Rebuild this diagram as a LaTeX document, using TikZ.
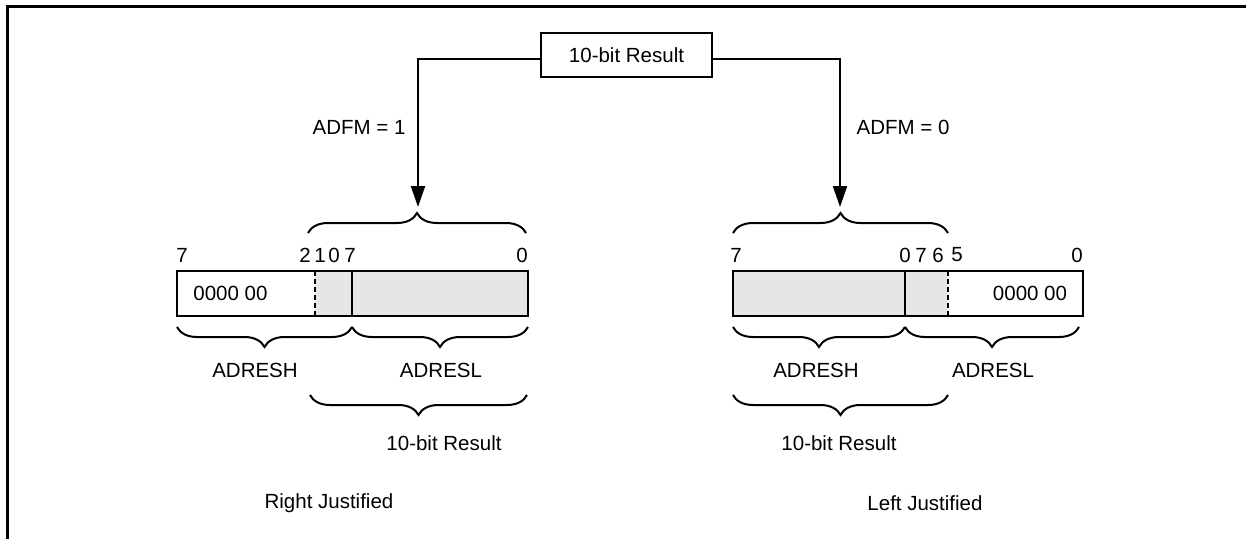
\documentclass[tikz,border=0pt]{standalone}
\usepackage{fontspec}
\setmainfont{Liberation Sans}
\usetikzlibrary{arrows.meta,decorations.pathreplacing}
\definecolor{regfill}{HTML}{E6E6E6}
\begin{document}
\begin{tikzpicture}[x=1pt,y=-1pt,
  every node/.style={font=\fontsize{20.5}{24}\selectfont, inner sep=0pt},
  lbl/.style={anchor=center},
  frame/.style={line width=3pt},
  box/.style={draw, line width=2pt},
  arr/.style={line width=2pt, -{Triangle[length=21pt,width=14pt]}},
  brup/.style={line width=2pt, decorate, decoration={brace, amplitude=20pt}},
  divs/.style={line width=2pt},
  divd/.style={line width=2pt, dash pattern=on 5pt off 3pt}]
\useasboundingbox (0,0) rectangle (1246,539);
% frame
\draw[frame] (7,539) -- (7,6) -- (1246,6);

% top result box
\node[box, minimum width=171pt, minimum height=44pt] (res) at (626.5,55) {10-bit Result};
\coordinate (resL) at (541,59);
\coordinate (resR) at (712,59);
\coordinate (cL) at (418,59);
\coordinate (cR) at (840,59);
\coordinate (tipL) at (418,207);
\coordinate (tipR) at (840,207);
\draw[arr] (resL) -- (cL) -- (tipL);
\draw[arr] (resR) -- (cR) -- (tipR);
\node[lbl] (adfm1) at (359,127) {ADFM = 1};
\node[lbl] (adfm0) at (903,127) {ADFM = 0};

% ===== left (right justified) =====
\coordinate (tlA) at (308,233);
\coordinate (tlB) at (526,233);
\draw[brup] (tlA) -- (tlB);
\node[lbl] (l7) at (182,255) {7};
\node[lbl] (l2) at (305,255) {2};
\node[lbl] (l1) at (320,255) {1};
\node[lbl] (l0) at (334,255) {0};
\node[lbl] (l7b) at (350,255) {7};
\node[lbl] (l0b) at (522,255) {0};
\fill[regfill] (315,271) rectangle (528,316);
\node[box, minimum width=351pt, minimum height=45pt] (regL) at (352.5,293.5) {};
\draw[divd] (315,271) -- (315,316);
\draw[divs] (352,271) -- (352,316);
\node[lbl] (zl) at (230.5,293) {0000 00};
\coordinate (blA) at (177,327);
\coordinate (blM) at (352,327);
\coordinate (blB) at (528,327);
\draw[brup] (blM) -- (blA);
\draw[brup] (blB) -- (blM);
\node[lbl] (adreshL) at (255,370) {ADRESH};
\node[lbl] (adreslL) at (441,370) {ADRESL};
\coordinate (llA) at (310,395);
\coordinate (llB) at (527,395);
\draw[brup] (llB) -- (llA);
\node[lbl] (resL2) at (444,443) {10-bit Result};
\node[lbl] (rj) at (329,503) {Right Justified};

% ===== right (left justified) =====
\coordinate (trA) at (733,233);
\coordinate (trB) at (948,233);
\draw[brup] (trA) -- (trB);
\node[lbl] (r7) at (736,255) {7};
\node[lbl] (r0) at (905,255) {0};
\node[lbl] (r7b) at (921,255) {7};
\node[lbl] (r6) at (938,255) {6};
\node[lbl] (r5) at (957,255) {5};
\node[lbl] (r0b) at (1077,255) {0};
\fill[regfill] (733,271) rectangle (948,316);
\node[box, minimum width=350pt, minimum height=45pt] (regR) at (908,293.5) {};
\draw[divs] (905,271) -- (905,316);
\draw[divd] (948,271) -- (948,316);
\node[lbl] (zr) at (1030,293) {0000 00};
\coordinate (brA) at (733,327);
\coordinate (brM) at (905,327);
\coordinate (brB) at (1079,327);
\draw[brup] (brM) -- (brA);
\draw[brup] (brB) -- (brM);
\node[lbl] (adreshR) at (816,370) {ADRESH};
\node[lbl] (adreslR) at (993,370) {ADRESL};
\coordinate (lrA) at (733,395);
\coordinate (lrB) at (948,395);
\draw[brup] (lrB) -- (lrA);
\node[lbl] (resR2) at (839,443) {10-bit Result};
\node[lbl] (lj) at (925,503) {Left Justified};
\end{tikzpicture}
\end{document}
